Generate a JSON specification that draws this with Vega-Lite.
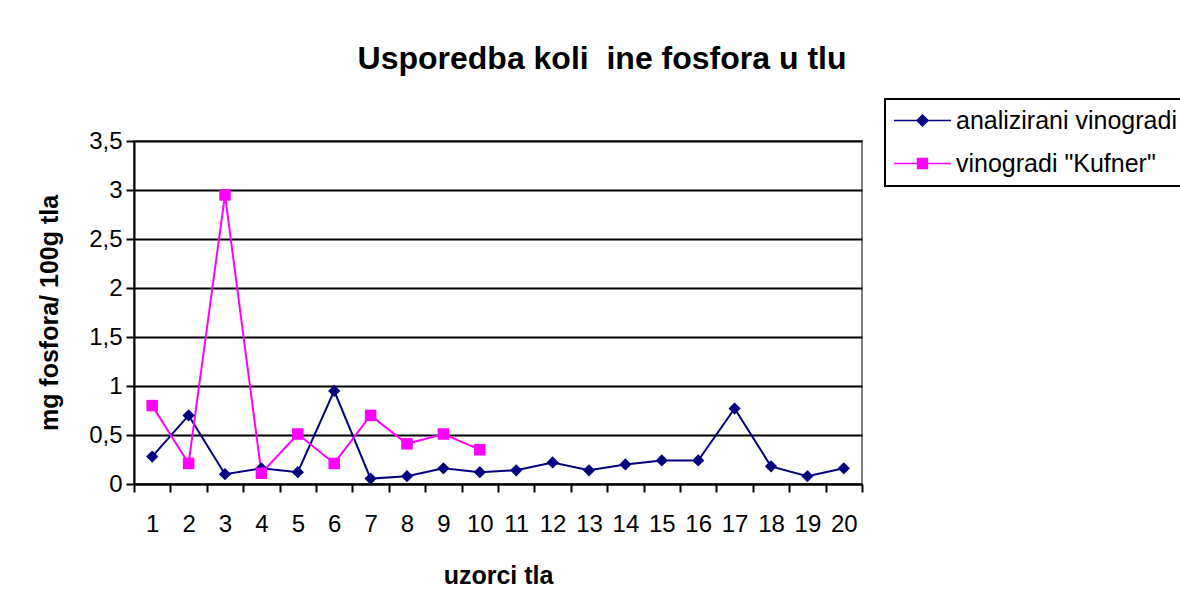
{
  "$schema": "https://vega.github.io/schema/vega-lite/v6.json",
  "width": 728,
  "height": 343,
  "autosize": "none",
  "padding": {"left": 134, "top": 141, "right": 318, "bottom": 123},
  "background": "white",
  "title": {
    "text": "Usporedba koli\u00a0 ine fosfora u tlu",
    "font": "Liberation Sans",
    "fontSize": 32,
    "fontWeight": "bold",
    "color": "black",
    "anchor": "middle",
    "frame": "group",
    "dx": 104,
    "offset": -3,
    "baseline": "alphabetic"
  },
  "data": {
    "values": [
      {"uzorak": 1, "serija": "analizirani vinogradi", "vrijednost": 0.28},
      {"uzorak": 2, "serija": "analizirani vinogradi", "vrijednost": 0.70},
      {"uzorak": 3, "serija": "analizirani vinogradi", "vrijednost": 0.10},
      {"uzorak": 4, "serija": "analizirani vinogradi", "vrijednost": 0.16},
      {"uzorak": 5, "serija": "analizirani vinogradi", "vrijednost": 0.12},
      {"uzorak": 6, "serija": "analizirani vinogradi", "vrijednost": 0.95},
      {"uzorak": 7, "serija": "analizirani vinogradi", "vrijednost": 0.055},
      {"uzorak": 8, "serija": "analizirani vinogradi", "vrijednost": 0.08},
      {"uzorak": 9, "serija": "analizirani vinogradi", "vrijednost": 0.16},
      {"uzorak": 10, "serija": "analizirani vinogradi", "vrijednost": 0.12},
      {"uzorak": 11, "serija": "analizirani vinogradi", "vrijednost": 0.14},
      {"uzorak": 12, "serija": "analizirani vinogradi", "vrijednost": 0.22},
      {"uzorak": 13, "serija": "analizirani vinogradi", "vrijednost": 0.14},
      {"uzorak": 14, "serija": "analizirani vinogradi", "vrijednost": 0.20},
      {"uzorak": 15, "serija": "analizirani vinogradi", "vrijednost": 0.24},
      {"uzorak": 16, "serija": "analizirani vinogradi", "vrijednost": 0.24},
      {"uzorak": 17, "serija": "analizirani vinogradi", "vrijednost": 0.77},
      {"uzorak": 18, "serija": "analizirani vinogradi", "vrijednost": 0.18},
      {"uzorak": 19, "serija": "analizirani vinogradi", "vrijednost": 0.08},
      {"uzorak": 20, "serija": "analizirani vinogradi", "vrijednost": 0.16},
      {"uzorak": 1, "serija": "vinogradi \"Kufner\"", "vrijednost": 0.80},
      {"uzorak": 2, "serija": "vinogradi \"Kufner\"", "vrijednost": 0.21},
      {"uzorak": 3, "serija": "vinogradi \"Kufner\"", "vrijednost": 2.95},
      {"uzorak": 4, "serija": "vinogradi \"Kufner\"", "vrijednost": 0.11},
      {"uzorak": 5, "serija": "vinogradi \"Kufner\"", "vrijednost": 0.51},
      {"uzorak": 6, "serija": "vinogradi \"Kufner\"", "vrijednost": 0.21},
      {"uzorak": 7, "serija": "vinogradi \"Kufner\"", "vrijednost": 0.70},
      {"uzorak": 8, "serija": "vinogradi \"Kufner\"", "vrijednost": 0.41},
      {"uzorak": 9, "serija": "vinogradi \"Kufner\"", "vrijednost": 0.51},
      {"uzorak": 10, "serija": "vinogradi \"Kufner\"", "vrijednost": 0.35}
    ]
  },
  "encoding": {
    "x": {
      "field": "uzorak",
      "type": "ordinal",
      "scale": {"type": "band", "paddingInner": 0, "paddingOuter": 0},
      "axis": {
        "title": "uzorci tla",
        "tickBand": "extent",
        "labelAngle": 0,
        "labelFont": "Liberation Sans",
        "labelFontSize": 24,
        "labelColor": "black",
        "labelPadding": 20,
        "tickColor": "black",
        "tickWidth": 2,
        "tickSize": 8,
        "domainColor": "black",
        "domainWidth": 2,
        "grid": false,
        "titleFont": "Liberation Sans",
        "titleFontSize": 25,
        "titleFontWeight": "bold",
        "titleColor": "black",
        "titlePadding": 27
      }
    },
    "y": {
      "field": "vrijednost",
      "type": "quantitative",
      "scale": {"domain": [0, 3.5], "nice": false},
      "axis": {
        "title": "mg fosfora/ 100g tla",
        "values": [0, 0.5, 1, 1.5, 2, 2.5, 3, 3.5],
        "labelExpr": "replace(format(datum.value, '~g'), '.', ',')",
        "labelFont": "Liberation Sans",
        "labelFontSize": 24,
        "labelColor": "black",
        "labelPadding": 4,
        "tickColor": "black",
        "tickWidth": 2,
        "tickSize": 8,
        "domainColor": "black",
        "domainWidth": 2,
        "grid": true,
        "gridColor": "black",
        "gridWidth": 2,
        "titleFont": "Liberation Sans",
        "titleFontSize": 25,
        "titleFontWeight": "bold",
        "titleColor": "black",
        "titlePadding": 26
      }
    },
    "color": {
      "field": "serija",
      "type": "nominal",
      "scale": {
        "domain": ["analizirani vinogradi", "vinogradi \"Kufner\""],
        "range": ["#000080", "#FF00FF"]
      },
      "legend": null
    }
  },
  "layer": [
    {
      "mark": {"type": "line", "strokeWidth": 2},
      "encoding": {
        "color": {
          "field": "serija",
          "type": "nominal",
          "scale": {
            "domain": ["analizirani vinogradi", "vinogradi \"Kufner\""],
            "range": ["#000080", "#FF00FF"]
          },
          "legend": {
            "orient": "none",
            "legendX": 751,
            "legendY": -42,
            "title": null,
            "labelFont": "Liberation Sans",
            "labelFontSize": 25,
            "labelColor": "black",
            "labelLimit": 500,
            "strokeColor": "black",
            "fillColor": "white",
            "padding": 9,
            "rowPadding": 17,
            "symbolSize": 144,
            "symbolOffset": 16,
            "labelOffset": 21,
            "encode": {
              "symbols": {
                "update": {
                  "shape": {"signal": "datum.value == 'analizirani vinogradi' ? 'M-4.75,-0.12L4.75,-0.12L4.75,0.12L-4.75,0.12ZM0,-1.1L1.1,0L0,1.1L-1.1,0Z' : 'M-4.75,-0.12L4.75,-0.12L4.75,0.12L-4.75,0.12ZM-0.95,-0.95L0.95,-0.95L0.95,0.95L-0.95,0.95Z'"},
                  "fill": {"signal": "datum.value == 'analizirani vinogradi' ? '#000080' : '#FF00FF'"},
                  "fillOpacity": {"value": 1},
                  "strokeWidth": {"value": 0},
                  "opacity": {"value": 1}
                }
              }
            }
          }
        }
      }
    },
    {
      "transform": [{"filter": "datum.serija == 'analizirani vinogradi'"}],
      "mark": {"type": "point", "shape": "diamond", "filled": true, "size": 150, "opacity": 1}
    },
    {
      "transform": [{"filter": "datum.serija != 'analizirani vinogradi'"}],
      "mark": {"type": "point", "shape": "square", "filled": true, "size": 132, "opacity": 1}
    }
  ],
  "config": {
    "view": {"stroke": "#808080", "strokeWidth": 2},
    "legend": {"strokeWidth": 2}
  }
}
